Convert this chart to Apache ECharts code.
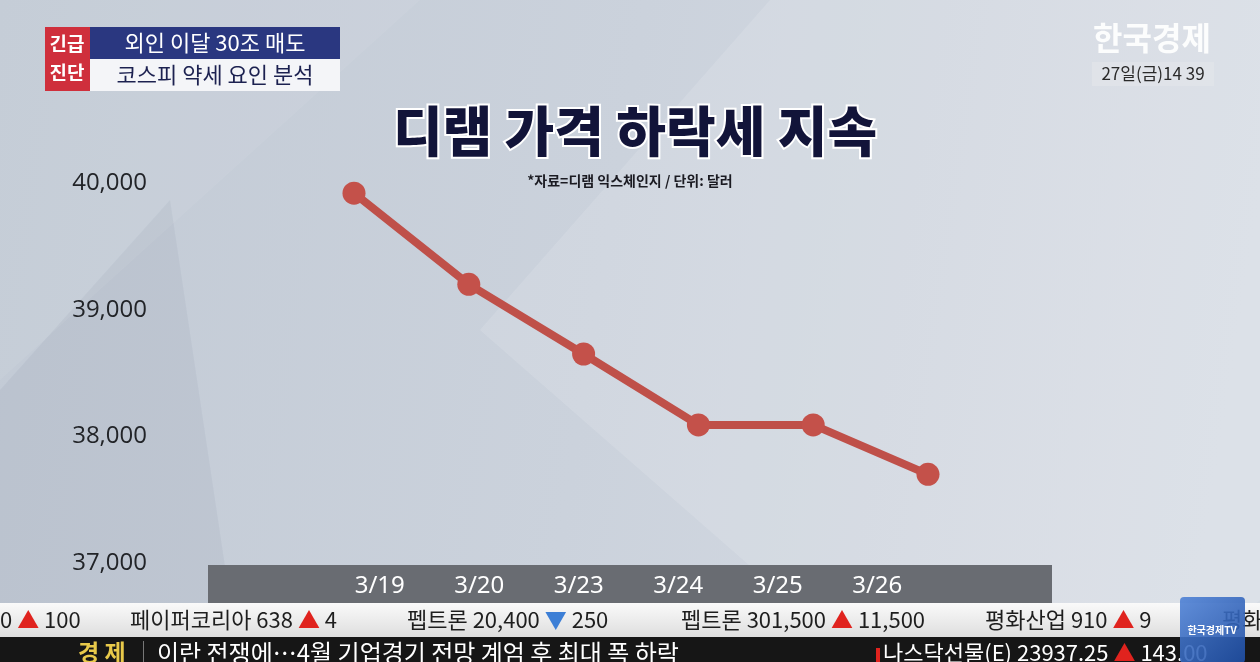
<!DOCTYPE html>
<html><head><meta charset="utf-8">
<script src="https://cdn.jsdelivr.net/npm/echarts@6/dist/echarts.min.js"></script>
<style>html,body{margin:0;padding:0;background:#c9d1db}#c{width:1260px;height:662px}</style>
</head><body><div id="c"></div>
<script>
const categories = ['3/19', '3/20', '3/23', '3/24', '3/25', '3/26'];
const dramPrice = [39920, 39200, 38650, 38090, 38090, 37700];
const yTicks = [37000, 38000, 39000, 40000];
const titleText = '디램 가격 하락세 지속';
const sourceText = '*자료=디램 익스체인지 / 단위: 달러';

const KR = '"Noto Sans CJK KR", "Noto Sans", sans-serif';
const chart = echarts.init(document.getElementById('c'), null, {renderer: 'canvas'});

const ticker = [
  {x: 0, parts: [['t', '0 '], ['r', '▲'], ['t', ' 100']]},
  {x: 130, parts: [['t', '페이퍼코리아 638 '], ['r', '▲'], ['t', ' 4']]},
  {x: 407, parts: [['t', '펩트론 20,400 '], ['b', '▼'], ['t', ' 250']]},
  {x: 681, parts: [['t', '펩트론 301,500 '], ['r', '▲'], ['t', ' 11,500']]},
  {x: 985, parts: [['t', '평화산업 910 '], ['r', '▲'], ['t', ' 9']]},
  {x: 1222, parts: [['t', '평화']]}
];
const tickerRich = {
  t: {fontSize: 22, fill: '#1e1e1e', fontFamily: KR},
  r: {fontSize: 22, fill: '#e0231e', fontFamily: KR},
  b: {fontSize: 22, fill: '#3d7fd6', fontFamily: KR}
};

const graphics = [
  {type: 'rect', z: -100, shape: {x: 0, y: 0, width: 1260, height: 662},
   style: {fill: {type: 'linear', x: 0, y: 0, x2: 1, y2: 0.3, colorStops: [
     {offset: 0, color: '#c2cad5'}, {offset: 0.5, color: '#cbd2dc'}, {offset: 1, color: '#d8dde5'}]}}},
  {type: 'polygon', z: -99, shape: {points: [[770, 0], [1260, 0], [1260, 600], [1180, 662], [860, 662], [480, 330]]},
   style: {fill: 'rgba(255,255,255,0.12)'}},
  {type: 'polygon', z: -99, shape: {points: [[0, 390], [170, 200], [230, 600], [180, 662], [0, 662]]},
   style: {fill: 'rgba(90,105,130,0.07)'}},
  {type: 'polygon', z: -99, shape: {points: [[0, 0], [420, 0], [0, 380]]},
   style: {fill: 'rgba(255,255,255,0.06)'}},
  // header boxes
  {type: 'rect', shape: {x: 45, y: 27, width: 45, height: 64}, style: {fill: '#cf2f3c'}},
  {type: 'text', style: {x: 67, y: 44, text: '긴급', fill: '#fff', font: 'bold 19px ' + KR, align: 'center', verticalAlign: 'middle'}},
  {type: 'text', style: {x: 67, y: 73, text: '진단', fill: '#fff', font: 'bold 19px ' + KR, align: 'center', verticalAlign: 'middle'}},
  {type: 'rect', shape: {x: 90, y: 27, width: 250, height: 32}, style: {fill: '#2a3780'}},
  {type: 'rect', shape: {x: 90, y: 59, width: 250, height: 32}, style: {fill: '#f4f5f8'}},
  {type: 'text', style: {x: 215, y: 43, text: '외인 이달 30조 매도', fill: '#fff', font: '22px ' + KR, align: 'center', verticalAlign: 'middle'}},
  {type: 'text', style: {x: 215, y: 75, text: '코스피 약세 요인 분석', fill: '#1c2150', font: '22px ' + KR, align: 'center', verticalAlign: 'middle'}},
  // logo
  {type: 'text', style: {x: 1152, y: 38, text: '한국경제', fill: 'rgba(255,255,255,0.92)', font: 'bold 32px ' + KR, align: 'center', verticalAlign: 'middle'}},
  {type: 'rect', shape: {x: 1092, y: 62, width: 122, height: 24}, style: {fill: 'rgba(225,228,233,0.85)'}},
  {type: 'text', style: {x: 1153, y: 74, text: '27일(금)14 39', fill: '#2a2a2a', font: '17px ' + KR, align: 'center', verticalAlign: 'middle'}},
  // titles
  {type: 'text', style: {x: 635, y: 131, text: titleText, fill: '#121439', font: '900 54px ' + KR, align: 'center', verticalAlign: 'middle', stroke: '#ffffff', lineWidth: 4}},
  {type: 'text', style: {x: 630, y: 181, text: sourceText, fill: '#1b1b22', font: 'bold 14px ' + KR, align: 'center', verticalAlign: 'middle'}},
  // x band
  {type: 'rect', z: -1, shape: {x: 208, y: 565, width: 844, height: 38}, style: {fill: '#696c72'}},
  // ticker bar
  {type: 'rect', shape: {x: 0, y: 603, width: 1260, height: 34},
   style: {fill: {type: 'linear', x: 0, y: 0, x2: 0, y2: 1, colorStops: [{offset: 0, color: '#fafafa'}, {offset: 1, color: '#dedede'}]}}},
  {type: 'rect', shape: {x: 0, y: 637, width: 1260, height: 25}, style: {fill: '#161616'}},
  {type: 'text', style: {x: 78, y: 641, text: '경 제', fill: '#e8c94a', font: 'bold 23px ' + KR}},
  {type: 'rect', shape: {x: 143, y: 641, width: 1, height: 21}, style: {fill: '#777'}},
  {type: 'text', style: {x: 157, y: 641, text: '이란 전쟁에…4월 기업경기 전망 계엄 후 최대 폭 하락', fill: '#ffffff', font: '24px ' + KR}},
  {type: 'rect', shape: {x: 876, y: 648, width: 4, height: 14}, style: {fill: '#e0231e'}},
  {type: 'text', style: {x: 883, y: 642, rich: {w: {fontSize: 22, fill: '#fff', fontFamily: KR}, r: {fontSize: 22, fill: '#e0231e', fontFamily: KR}},
    text: '{w|나스닥선물(E) 23937.25 }{r|▲}{w| 143.00}'}},
  {type: 'rect', shape: {x: 1180, y: 597, width: 65, height: 66, r: 4},
   style: {fill: {type: 'linear', x: 0, y: 0, x2: 1, y2: 1, colorStops: [{offset: 0, color: '#4f82d6'}, {offset: 1, color: '#1f4fa6'}]}, opacity: 0.9}},
  {type: 'text', style: {x: 1212, y: 630, text: '한국경제TV', fill: '#fff', font: 'bold 10px ' + KR, align: 'center', verticalAlign: 'middle'}}
];
ticker.forEach(function (t) {
  graphics.splice(graphics.length - 2, 0, {type: 'text', style: {x: t.x, y: 620, verticalAlign: 'middle', rich: tickerRich,
    text: t.parts.map(function (p) { return '{' + p[0] + '|' + p[1] + '}'; }).join('')}});
});

chart.setOption({
  animation: false,
  grid: [
    {left: 354, right: 332, top: 183, height: 380},
    {left: 330, width: 597, top: 560, height: 1}
  ],
  xAxis: [
    {type: 'category', gridIndex: 0, data: categories, boundaryGap: false,
     axisLine: {show: false}, axisTick: {show: false}, axisLabel: {show: false}, splitLine: {show: false}},
    {type: 'category', gridIndex: 1, data: categories, boundaryGap: true,
     axisLine: {show: false}, axisTick: {show: false}, splitLine: {show: false},
     axisLabel: {color: '#ffffff', fontSize: 24, fontFamily: '"Noto Sans", sans-serif', margin: 13, interval: 0}}
  ],
  yAxis: [
    {type: 'value', gridIndex: 0, min: yTicks[0], max: yTicks[yTicks.length - 1], interval: 1000,
     axisLine: {show: false}, axisTick: {show: false}, splitLine: {show: false},
     axisLabel: {color: '#222428', fontSize: 24, fontFamily: '"Open Sans", sans-serif', margin: 207,
       formatter: function (v) { return v.toLocaleString('en-US'); }}},
    {type: 'value', gridIndex: 1, show: false}
  ],
  graphic: graphics,
  series: [{
    type: 'line', xAxisIndex: 0, yAxisIndex: 0, data: dramPrice,
    symbol: 'circle', symbolSize: 23,
    lineStyle: {color: '#bf5049', width: 8},
    itemStyle: {color: '#c4514a'},
    z: 3
  }]
});
</script></body></html>
